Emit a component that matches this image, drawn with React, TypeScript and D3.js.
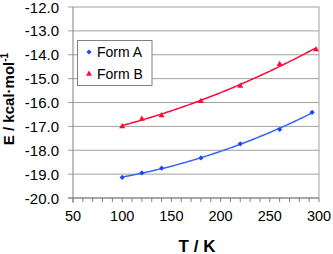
import React from "react";
import * as d3 from "d3";

const temps = [100, 120, 140, 180, 220, 260];
const formAT = [...temps, 293];
const formBT = [...temps, 297];
const formA = [-19.14, -18.95, -18.75, -18.32, -17.73, -17.13, -16.41];
const formB = [-16.98, -16.67, -16.52, -15.93, -15.29, -14.38, -13.76];
const yTicks = [-20, -19, -18, -17, -16, -15, -14, -13, -12];
const xTicks = [50, 100, 150, 200, 250, 300];
const xMinor = d3.range(50, 301, 10);

function quadFit(xs: number[], ys: number[]) {
  // least squares fit y = a + b x + c x^2
  const n = xs.length;
  let s = [0, 0, 0, 0, 0];
  let t = [0, 0, 0];
  for (let i = 0; i < n; i++) {
    const x = xs[i];
    for (let k = 0; k < 5; k++) s[k] += Math.pow(x, k);
    for (let k = 0; k < 3; k++) t[k] += ys[i] * Math.pow(x, k);
  }
  const M = [
    [s[0], s[1], s[2], t[0]],
    [s[1], s[2], s[3], t[1]],
    [s[2], s[3], s[4], t[2]],
  ];
  for (let i = 0; i < 3; i++) {
    for (let j = i + 1; j < 3; j++) {
      const f = M[j][i] / M[i][i];
      for (let k = i; k < 4; k++) M[j][k] -= f * M[i][k];
    }
  }
  const c = [0, 0, 0];
  for (let i = 2; i >= 0; i--) {
    let v = M[i][3];
    for (let k = i + 1; k < 3; k++) v -= M[i][k] * c[k];
    c[i] = v / M[i][i];
  }
  return (x: number) => c[0] + c[1] * x + c[2] * x * x;
}

export default function App() {
  const x = d3.scaleLinear().domain([50, 300]).range([73, 319]);
  const y = d3.scaleLinear().domain([-20, -12]).range([198, 7]);
  const line = d3.line<number[]>().x((d) => x(d[0])).y((d) => y(d[1])).curve(d3.curveLinear);

  const fitA = quadFit(formAT, formA);
  const fitB = quadFit(formBT, formB);
  const pathA = line(d3.range(100, 293.01, 2).map((t) => [t, fitA(t)]));
  const pathB = line(d3.range(100, 297.01, 2).map((t) => [t, fitB(t)]));

  const blue = "#1f45ff";
  const blueLine = "#3366ff";
  const red = "#ff0a3a";
  const font = "Liberation Sans, Arial, sans-serif";

  const diamond = (cx: number, cy: number, r = 2.6) =>
    `M${cx},${cy - r}L${cx + r},${cy}L${cx},${cy + r}L${cx - r},${cy}Z`;
  const tri = (cx: number, cy: number, r = 3) =>
    `M${cx},${cy - r}L${cx + r},${cy + r * 0.75}L${cx - r},${cy + r * 0.75}Z`;

  return (
    <svg
      width={333}
      height={254}
      style={{ position: "absolute", left: 0, top: 0, background: "#fff" }}
      fontFamily={font}
    >
      {/* gridlines */}
      {yTicks.map((v) => (
        <line key={"g" + v} x1={68} x2={319} y1={y(v)} y2={y(v)} stroke="#a0a0a0" strokeWidth={1} />
      ))}
      {/* right border */}
      <line x1={319} x2={319} y1={y(-12)} y2={y(-20)} stroke="#a0a0a0" />
      {/* axes */}
      <line x1={73} x2={73} y1={y(-12)} y2={y(-20) + 5} stroke="#808080" />
      <line x1={68} x2={319} y1={y(-20)} y2={y(-20)} stroke="#808080" />
      {xMinor.map((v) => (
        <line key={"t" + v} x1={x(v)} x2={x(v)} y1={y(-20)} y2={y(-20) + 4} stroke="#808080" />
      ))}
      {/* y tick labels */}
      {yTicks.map((v) => (
        <text key={"yl" + v} x={59} y={y(v) + 5.5} fontSize={15} textAnchor="end" fill="#000">
          {d3.format(".1f")(v).replace("−", "-")}
        </text>
      ))}
      {/* x tick labels */}
      {xTicks.map((v) => (
        <text key={"xl" + v} x={x(v)} y={221} fontSize={14.5} textAnchor="middle" fill="#000">
          {v}
        </text>
      ))}
      {/* lines */}
      <path d={pathA ?? ""} fill="none" stroke={blueLine} strokeWidth={1.5} />
      <path d={pathB ?? ""} fill="none" stroke={red} strokeWidth={1.5} />
      {formAT.map((t, i) => (
        <path key={"ma" + i} d={diamond(x(t), y(formA[i]))} fill={blue} />
      ))}
      {formBT.map((t, i) => (
        <path key={"mb" + i} d={tri(x(t), y(formB[i]))} fill={red} />
      ))}
      {/* legend */}
      <rect x={77.5} y={40.5} width={74.5} height={45} fill="#fff" stroke="#808080" />
      <path d={diamond(89, 52)} fill={blue} />
      <path d={tri(89, 73.5)} fill={red} />
      <text x={97} y={57} fontSize={14} fill="#000">Form A</text>
      <text x={97} y={78.5} fontSize={14} fill="#000">Form B</text>
      {/* axis titles */}
      <text x={197} y={251.5} fontSize={17} fontWeight="bold" textAnchor="middle" fill="#000">
        T / K
      </text>
      <text
        transform="translate(14,99) rotate(-90)"
        fontSize={15}
        fontWeight="bold"
        textAnchor="middle"
        fill="#000"
      >
        E / kcal·mol
        <tspan fontSize={10} dy={-6}>-1</tspan>
      </text>
    </svg>
  );
}
